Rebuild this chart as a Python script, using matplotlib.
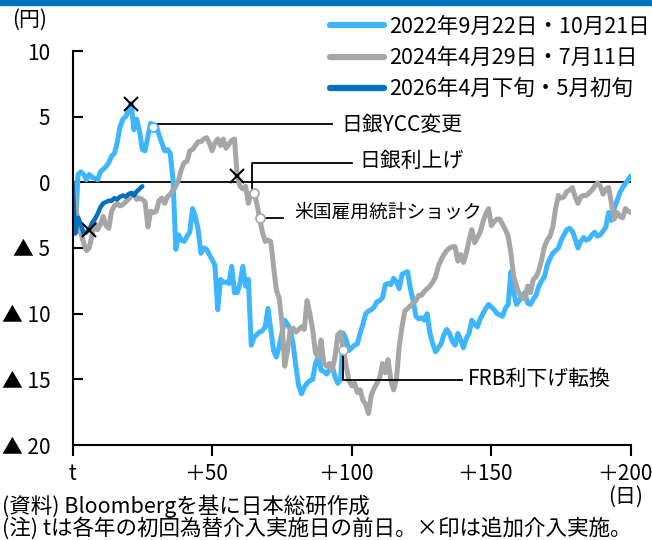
import matplotlib
matplotlib.use('Agg')
import matplotlib.pyplot as plt
import matplotlib.transforms as mtrans
from matplotlib.patches import Rectangle

plt.rcParams['font.family'] = ['Noto Sans CJK JP', 'DejaVu Sans']

# yen move from day t (day before first intervention), by business day
days_2022 = list(range(201))
yen_2022 = [0.0, -3.5, 0.6, 0.8, 0.6, 0.2, 0.6, 0.4, 0.3, 0.2,
            0.8, 1.0, 1.2, 1.5, 2.0, 2.2, 3.0, 4.2, 4.8, 5.0,
            5.4, 6.0, 4.0, 4.8, 3.9, 2.5, 2.4, 3.5, 4.5, 4.2,
            4.3, 3.6, 3.0, 2.4, 2.5, 2.2, 0.2, -5.1, -4.0, -4.4,
            -4.5, -4.1, -3.8, -2.0, -2.6, -3.6, -5.4, -5.0, -5.1, -5.5,
            -5.9, -6.3, -9.7, -7.4, -7.6, -7.6, -7.7, -6.4, -8.4, -8.4,
            -7.7, -6.4, -7.9, -7.4, -12.4, -11.8, -11.6, -11.4, -11.3, -11.0,
            -9.6, -11.2, -12.8, -13.3, -12.5, -11.5, -10.5, -10.8, -11.2, -12.3,
            -14.0, -15.5, -16.1, -15.6, -15.3, -15.1, -15.0, -13.8, -13.3, -14.3,
            -14.4, -14.6, -14.3, -14.0, -14.8, -15.3, -15.0, -11.5, -12.0, -12.8,
            -12.6, -12.4, -12.3, -11.5, -10.8, -10.0, -9.8, -9.7, -9.5, -9.1,
            -9.0, -8.8, -7.8, -7.7, -7.8, -7.3, -7.6, -8.1, -7.0, -6.9,
            -6.8, -8.1, -9.0, -10.2, -10.4, -10.3, -10.5, -10.0, -11.5, -12.3,
            -12.9, -12.6, -12.3, -11.6, -11.2, -11.5, -12.1, -12.4, -11.5, -12.0,
            -12.6, -11.9, -11.5, -10.5, -10.8, -11.0, -10.4, -10.0, -9.6, -9.3,
            -9.5, -9.7, -10.0, -10.1, -10.2, -9.6, -9.3, -6.8, -8.4, -9.3,
            -9.0, -8.6, -8.4, -9.2, -9.3, -8.9, -8.6, -7.9, -7.5, -7.2,
            -6.3, -5.8, -5.4, -5.2, -5.0, -4.4, -4.0, -3.6, -3.5, -3.7,
            -4.3, -5.0, -4.5, -4.2, -4.4, -4.3, -4.0, -3.8, -4.1, -4.0,
            -3.7, -3.4, -2.3, -2.9, -2.0, -1.4, -0.8, -0.4, -0.1, 0.2, 0.5]

days_2024 = list(range(201))
yen_2024 = [0.0, -1.5, -3.1, -3.9, -4.6, -5.2, -5.0, -4.0, -3.1, -3.6,
            -3.2, -2.6, -3.3, -3.5, -2.2, -1.8, -1.6, -1.8, -1.7, -1.5,
            -1.3, -1.0, -0.8, -1.3, -1.2, -1.3, -1.5, -3.4, -2.2, -2.3,
            -2.2, -1.4, -1.2, -1.6, -1.1, -0.9, -0.6, -0.3, 0.2, 1.0,
            1.5, 1.6, 2.4, 2.5, 2.8, 3.1, 3.1, 3.3, 3.4, 3.0,
            2.4, 3.0, 3.3, 2.8, 3.3, 2.6, 2.9, 3.2, 3.3, 0.5,
            -0.3, -0.5, -0.3, -1.6, -0.8, -0.8, -1.6, -2.7, -3.8, -4.5,
            -4.4, -4.5, -6.4, -8.2, -8.8, -10.7, -14.0, -12.8, -11.2, -11.1,
            -11.4, -11.2, -11.0, -11.2, -9.0, -10.0, -11.2, -13.0, -13.3, -12.0,
            -13.8, -14.0, -13.8, -14.3, -13.3, -11.6, -11.4, -12.8, -14.0, -15.1,
            -15.5, -15.3, -16.0, -15.8, -16.6, -16.9, -17.6, -16.2, -15.7, -15.3,
            -14.9, -13.8, -14.5, -13.5, -15.1, -15.8, -15.0, -12.5, -11.0, -9.8,
            -9.6, -9.4, -9.2, -9.0, -8.6, -8.6, -8.3, -8.1, -7.9, -7.6,
            -7.2, -6.4, -5.9, -5.5, -5.2, -5.0, -4.9, -4.9, -6.0, -5.5,
            -6.1, -5.4, -4.4, -3.6, -4.6, -4.2, -3.8, -3.0, -2.4, -2.0,
            -3.3, -3.0, -2.8, -2.8, -3.2, -3.6, -4.1, -5.4, -7.2, -7.9,
            -8.5, -8.7, -8.9, -7.9, -8.4, -7.4, -7.2, -6.7, -5.9, -4.9,
            -4.4, -4.1, -3.4, -2.0, -1.0, -1.2, -1.1, -0.7, -0.6, -0.4,
            -1.1, -1.6, -1.1, -1.0, -1.0, -0.8, -0.6, -0.3, -0.05, -0.3,
            -0.9, -0.5, -0.4, -1.6, -2.8, -2.3, -2.6, -2.7, -2.0, -2.2, -2.3]

days_2026 = list(range(26))
yen_2026 = [0.0, -3.9, -2.7, -3.2, -3.9, -3.8, -3.6, -3.1, -2.8, -2.4,
            -1.9, -1.6, -1.5, -1.4, -1.4, -1.2, -1.3, -1.1, -1.0, -1.1,
            -0.9, -0.8, -1.0, -0.7, -0.5, -0.3]

labels = ['2022年9月22日・10月21日', '2024年4月29日・7月11日', '2026年4月下旬・5月初旬']
colors = ['#3DB5FF', '#A6A6A6', '#0070C0']

# additional interventions (x) and events (o): (series, day index)
extra_2022 = [21]
extra_2024 = [59]
extra_2026 = [6]
events = [('日銀YCC変更', 2022, 29), ('日銀利上げ', 2024, 65),
          ('米国雇用統計ショック', 2024, 67), ('FRB利下げ転換', 2024, 97)]

yticks = [10, 5, 0, -5, -10, -15, -20]
ytick_labels = ['10', '5', '0', '▲ 5', '▲ 10', '▲ 15', '▲ 20']
xticks = [0, 50, 100, 150, 200]
xtick_labels = ['t', '＋50', '＋100', '＋150', '＋200']

fs = 15
fig = plt.figure(figsize=(6.52, 5.40), dpi=100)
fig.patches.append(Rectangle((0, 535 / 540), 1, 5 / 540, transform=fig.transFigure,
                             color='#0070C0', zorder=0))
ax = fig.add_axes([72.5 / 652, 95 / 540, (631 - 72.5) / 652, (445 - 51) / 540])

series = {2022: (days_2022, yen_2022), 2024: (days_2024, yen_2024), 2026: (days_2026, yen_2026)}
lw = [3.6, 3.6, 3.2]
for (yr, (d, v)), lab, c, w in zip(series.items(), labels, colors, lw):
    ax.plot(d, v, color=c, lw=w, label=lab, solid_capstyle='round', solid_joinstyle='round')

ax.axhline(0, color='black', lw=1.3, zorder=1.5)

for yr, idx in [(2022, extra_2022), (2024, extra_2024), (2026, extra_2026)]:
    d, v = series[yr]
    ax.plot([d[i] for i in idx], [v[i] for i in idx], 'x', color='black', ms=10, mew=1.5, zorder=5)

ev = {}
for name, yr, i in events:
    d, v = series[yr]
    ev[name] = (d[i], v[i])

# leader lines and labels
x0, y0 = ev['日銀YCC変更']
ax.plot([x0 + 0.5, 93], [4.45, 4.45], color='black', lw=1.3, zorder=4)
ax.text(96.3, 4.35, '日銀YCC変更', fontsize=fs, va='center', ha='left')

x0, y0 = ev['日銀利上げ']
ax.plot([x0 - 0.6, x0 - 0.6, 100], [y0, 1.5, 1.5], color='black', lw=1.3, zorder=4)
ax.text(102.8, 1.6, '日銀利上げ', fontsize=fs, va='center', ha='left')

x0, y0 = ev['米国雇用統計ショック']
ax.plot([x0, 75.4], [y0, y0], color='black', lw=1.3, zorder=4)
ax.text(79.5, -2.3, '米国雇用統計ショック', fontsize=13.5, va='center', ha='left')

x0, y0 = ev['FRB利下げ転換']
ax.plot([x0, x0, 139.4], [y0, -15.05, -15.05], color='black', lw=1.3, zorder=4)
ax.text(141.6, -15.0, 'FRB利下げ転換', fontsize=fs, va='center', ha='left')

for name, yr, i in events:
    c = colors[0] if yr == 2022 else colors[1]
    ax.plot(*ev[name], 'o', ms=6.5, mfc='white', mec=c, mew=1.2, zorder=6)

ax.set_xlim(0, 200)
ax.set_ylim(-20, 10)
ax.set_yticks(yticks)
ax.set_yticklabels(ytick_labels, fontsize=fs)
ax.set_xticks(xticks)
ax.set_xticklabels(xtick_labels, fontsize=fs)
ax.tick_params(axis='y', direction='in', length=7, width=1.5, pad=16)
ax.tick_params(axis='x', direction='out', length=8, width=1.5, pad=5)
shift = mtrans.ScaledTranslation(-6 / 100, 0, fig.dpi_scale_trans)
for lab in ax.get_xticklabels()[1:]:
    lab.set_transform(lab.get_transform() + shift)
for s in ['top', 'right']:
    ax.spines[s].set_visible(False)
for s in ['left', 'bottom']:
    ax.spines[s].set_linewidth(1.5)

leg = ax.legend(loc='upper left', bbox_to_anchor=(330 / 652, 1 - 16 / 540),
                bbox_transform=fig.transFigure, frameon=False, fontsize=15.5,
                handlelength=2.5, handletextpad=0.25, labelspacing=0.42,
                borderpad=0, borderaxespad=0)
for h in leg.get_lines():
    h.set_linewidth(4.5)

fig.text(12 / 652, 1 - 20 / 540, '(円)', fontsize=fs, va='center', ha='left')
fig.text(643 / 652, 1 - 497 / 540, '(日)', fontsize=fs, va='center', ha='right')
fig.text(2 / 652, 1 - 506 / 540, '(資料) Bloombergを基に日本総研作成', fontsize=15.5,
         va='center', ha='left')
fig.text(2 / 652, 1 - 528 / 540, '(注) tは各年の初回為替介入実施日の前日。×印は追加介入実施。',
         fontsize=15.5, va='center', ha='left')

fig.savefig('out.png', dpi=100)
